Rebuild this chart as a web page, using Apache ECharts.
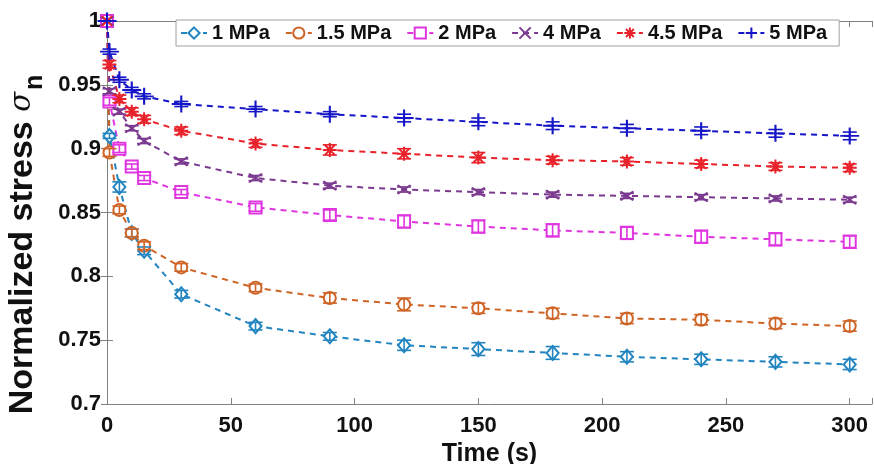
<!DOCTYPE html>
<html>
<head>
<meta charset="utf-8">
<script src="https://cdn.jsdelivr.net/npm/echarts@6/dist/echarts.min.js"></script>
<style>
html,body{margin:0;padding:0;background:#fff;}
#chart{width:874px;height:464px;}
</style>
</head>
<body>
<div id="chart"></div>
<script>
var times = [0, 1, 5, 10, 15, 30, 60, 90, 120, 150, 180, 210, 240, 270, 300];
var seriesNames = ['1 MPa', '1.5 MPa', '2 MPa', '4 MPa', '4.5 MPa', '5 MPa'];
var s1  = [1, 0.910, 0.870, 0.834, 0.820, 0.786, 0.761, 0.753, 0.746, 0.743, 0.740, 0.737, 0.735, 0.733, 0.731];
var s15 = [1, 0.897, 0.852, 0.834, 0.824, 0.807, 0.791, 0.783, 0.778, 0.775, 0.771, 0.767, 0.766, 0.763, 0.761];
var s2  = [1, 0.937, 0.900, 0.886, 0.877, 0.866, 0.854, 0.848, 0.843, 0.839, 0.836, 0.834, 0.831, 0.829, 0.827];
var s4  = [1, 0.945, 0.929, 0.916, 0.906, 0.890, 0.877, 0.871, 0.868, 0.866, 0.864, 0.863, 0.862, 0.861, 0.860];
var s45 = [1, 0.966, 0.939, 0.929, 0.923, 0.914, 0.904, 0.899, 0.896, 0.893, 0.891, 0.890, 0.888, 0.886, 0.885];
var s5  = [1, 0.976, 0.954, 0.946, 0.941, 0.935, 0.931, 0.927, 0.924, 0.921, 0.918, 0.916, 0.914, 0.912, 0.910];
var e1  = [0, 0.002, 0.004, 0.003, 0.003, 0.003, 0.003, 0.003, 0.004, 0.005, 0.005, 0.004, 0.004, 0.004, 0.004];
var e15 = [0, 0.003, 0.003, 0.003, 0.003, 0.003, 0.003, 0.004, 0.005, 0.004, 0.004, 0.004, 0.004, 0.004, 0.004];
var e2  = [0, 0.003, 0.003, 0.002, 0.002, 0.002, 0.003, 0.004, 0.005, 0.005, 0.005, 0.005, 0.005, 0.005, 0.005];
var e4  = [0, 0.002, 0.002, 0.002, 0.002, 0.002, 0.002, 0.002, 0.002, 0.002, 0.002, 0.002, 0.002, 0.002, 0.002];
var e45 = [0, 0.003, 0.003, 0.003, 0.003, 0.003, 0.003, 0.004, 0.004, 0.004, 0.003, 0.003, 0.003, 0.003, 0.003];
var e5  = [0, 0.002, 0.002, 0.002, 0.002, 0.002, 0.002, 0.002, 0.003, 0.003, 0.003, 0.003, 0.003, 0.003, 0.003];
var xTicks = [0, 50, 100, 150, 200, 250, 300];
var yTicks = [0.7, 0.75, 0.8, 0.85, 0.9, 0.95, 1];

var values = [s1, s15, s2, s4, s45, s5];
var errors = [e1, e15, e2, e4, e45, e5];
var colors = ['#2385c0', '#cf6427', '#e036e0', '#7b3a8f', '#e8222a', '#1616c8'];
var symbols = [
  'emptyDiamond', 'emptyCircle', 'emptyRect',
  'path://M0,0L10,10M10,0L0,10',
  'path://M5,0L5,10M0,5L10,5M1.5,1.5L8.5,8.5M8.5,1.5L1.5,8.5',
  'path://M5,0L5,10M0,5L10,5'
];
var symbolSizes = [[12, 14], 12, 12, [13, 9], 14, [19, 17]];
var FONT = '"Liberation Sans", Arial, Helvetica, sans-serif';
var AX = '#808080';

var series = [];
values.forEach(function (vals, i) {
  var isPath = symbols[i].indexOf('path://') === 0;
  series.push({
    name: seriesNames[i],
    type: 'line',
    data: times.map(function (t, k) { return [t, vals[k]]; }),
    symbol: symbols[i],
    symbolSize: symbolSizes[i],
    showAllSymbol: true,
    lineStyle: { color: colors[i], width: 2, type: [6, 5] },
    itemStyle: isPath
      ? { color: colors[i], borderColor: colors[i], borderWidth: 2 }
      : { color: colors[i], borderColor: colors[i], borderWidth: 1.6 },
    emphasis: { disabled: true },
    z: 3
  });
});
values.forEach(function (vals, i) {
  var c = colors[i];
  series.push({
    name: seriesNames[i] + ' err',
    type: 'custom',
    data: times.map(function (t, k) { return [t, vals[k], errors[i][k]]; }),
    renderItem: function (params, api) {
      var x = api.value(0), y = api.value(1), e = api.value(2);
      if (!e) return null;
      var top = api.coord([x, y + e]);
      var bot = api.coord([x, y - e]);
      var w = 7;
      var st = { stroke: c, lineWidth: 1.6 };
      return {
        type: 'group',
        children: [
          { type: 'line', shape: { x1: top[0], y1: top[1], x2: bot[0], y2: bot[1] }, style: st },
          { type: 'line', shape: { x1: top[0] - w, y1: top[1], x2: top[0] + w, y2: top[1] }, style: st },
          { type: 'line', shape: { x1: bot[0] - w, y1: bot[1], x2: bot[0] + w, y2: bot[1] }, style: st }
        ]
      };
    },
    z: 4,
    silent: true
  });
});

var chart = echarts.init(document.getElementById('chart'), null, { renderer: 'canvas' });
chart.setOption({
  animation: false,
  backgroundColor: '#fff',
  textStyle: { fontFamily: FONT },
  grid: { left: 107, right: 2, top: 21, bottom: 60, containLabel: false, outerBoundsMode: 'none' },
  legend: {
    data: seriesNames,
    left: 176,
    top: 20,
    orient: 'horizontal',
    backgroundColor: '#fff',
    borderColor: '#a0a0a0',
    borderWidth: 1,
    padding: [3, 12, 3, 4],
    itemGap: 15,
    itemWidth: 26,
    itemHeight: 14,
    textStyle: { fontSize: 20, fontWeight: 'bold', color: '#111', fontFamily: FONT, padding: [0, 0, 0, 0] }
  },
  xAxis: [{
    type: 'value',
    min: 0, max: 309, interval: 50,
    name: 'Time (s)',
    nameLocation: 'middle',
    nameGap: 38,
    nameTextStyle: { fontSize: 25, fontWeight: 'bold', color: '#111', fontFamily: FONT },
    axisLine: { show: true, lineStyle: { color: AX, width: 1 } },
    axisTick: { show: true, inside: true, length: 6, lineStyle: { color: AX } },
    axisLabel: {
      fontSize: 22, fontWeight: 'bold', color: '#111', fontFamily: FONT, margin: 11,
      formatter: function (v) { return xTicks.indexOf(v) >= 0 ? String(v) : ''; }
    },
    splitLine: { show: false }
  }, {
    type: 'value', position: 'top',
    min: 0, max: 309, interval: 50,
    axisLine: { show: true, lineStyle: { color: AX, width: 1 } },
    axisTick: { show: true, inside: true, length: 6, lineStyle: { color: AX } },
    axisLabel: { show: false },
    splitLine: { show: false }
  }],
  yAxis: [{
    type: 'value',
    min: 0.7, max: 1, interval: 0.05,
    name: '{a|Normalized stress }{b|σ}{c|n}',
    nameLocation: 'middle',
    nameGap: 30,
    nameTextStyle: {
      fontSize: 34, fontWeight: 'bold', color: '#111', fontFamily: FONT,
      padding: [0, 64, 0, 0],
      rich: {
        a: { fontSize: 34, fontWeight: 'bold', color: '#111', fontFamily: FONT },
        b: { fontSize: 29, fontStyle: 'italic', fontWeight: 'normal', color: '#111', fontFamily: '"DejaVu Serif", serif' },
        c: { fontSize: 25, fontWeight: 'bold', color: '#111', fontFamily: FONT, padding: [24, 0, 0, 2] }
      }
    },
    axisLine: { show: true, lineStyle: { color: AX, width: 1 } },
    axisTick: { show: true, inside: true, length: 6, lineStyle: { color: AX } },
    axisLabel: {
      fontSize: 22, fontWeight: 'bold', color: '#111', fontFamily: FONT, margin: 6,
      formatter: function (v) {
        for (var k = 0; k < yTicks.length; k++) {
          if (Math.abs(yTicks[k] - v) < 1e-9) return String(yTicks[k]);
        }
        return '';
      }
    },
    splitLine: { show: false }
  }, {
    type: 'value', position: 'right',
    min: 0.7, max: 1, interval: 0.05,
    axisLine: { show: true, lineStyle: { color: AX, width: 1 } },
    axisTick: { show: true, inside: true, length: 6, lineStyle: { color: AX } },
    axisLabel: { show: false },
    splitLine: { show: false }
  }],
  series: series
});
</script>
</body>
</html>
